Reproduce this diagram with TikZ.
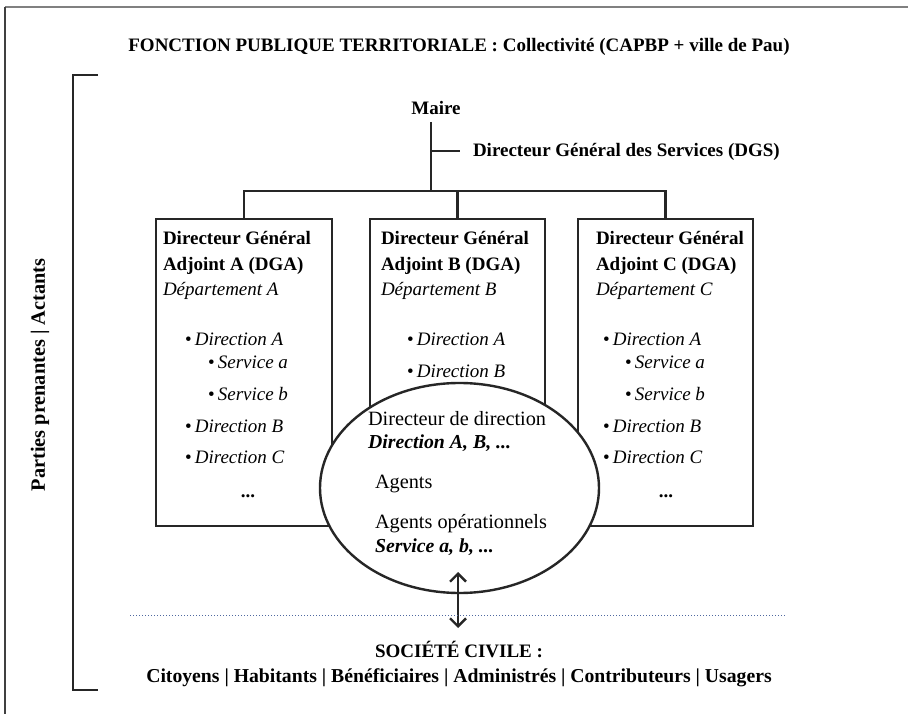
\documentclass[tikz,border=0pt]{standalone}
\usepackage{fontspec}
\setmainfont{Liberation Serif}
\usetikzlibrary{arrows.meta,shapes.geometric}
\begin{document}
\begin{tikzpicture}[x=1pt,y=-1pt, every node/.style={inner sep=0pt, outer sep=0pt}]
\tikzset{
 txt/.style={font=\fontsize{20.3}{24}\selectfont},
 btxt/.style={font=\fontsize{19}{23}\selectfont\bfseries},
 itxt/.style={font=\fontsize{19}{23}\selectfont\itshape},
 bitxt/.style={font=\fontsize{19.8}{24}\selectfont\bfseries\itshape},
 line/.style={line width=2.4pt, black!85},
 dgabox/.style={draw, line width=2.4pt, black!85, fill=white, minimum width=176pt, minimum height=307pt, anchor=north west},
 lb/.style={anchor=base west},
}
\useasboundingbox (0,0) rectangle (908,714);
% frame
\coordinate (f1) at (5,7); \coordinate (f2) at (908,7); \coordinate (f3) at (5,714);
\draw[gray, line width=2pt] (f1) -- (f2);
\draw[black!75, line width=2pt] (f1) -- (f3);

% title
\node[btxt, anchor=base] (title) at (459,52) {FONCTION PUBLIQUE TERRITORIALE : Collectivité (CAPBP + ville de Pau)};

% bracket
\coordinate (b1) at (98,75); \coordinate (b2) at (73,75); \coordinate (b3) at (73,690); \coordinate (b4) at (98,690);
\draw[line] (b1) -- (b2) -- (b3) -- (b4);
\node[btxt, font=\fontsize{20.3}{24}\selectfont\bfseries, rotate=90] (pp) at (40,375) {Parties prenantes | Actants};

% Maire and DGS
\node[btxt, anchor=base] (maire) at (436,115) {Maire};
\coordinate (mtop) at (431,122);
\coordinate (jn) at (431,191);
\coordinate (dgsj) at (431,151);
\coordinate (dgse) at (460,151);
\node[btxt, lb] (dgs) at (473,157) {Directeur Général des Services (DGS)};
\draw[line] (mtop) -- (jn);
\draw[line] (dgsj) -- (dgse);

% boxes
\node[dgabox] (boxA) at (156,219) {};
\node[dgabox, minimum width=175pt] (boxB) at (370,219) {};
\node[dgabox, minimum width=175pt] (boxC) at (578,219) {};
\draw[line] (boxA.north) -- (boxA.north |- jn) -- (boxC.north |- jn) -- (boxC.north);
\draw[line] (boxB.north) -- (boxB.north |- jn);

% Box A text
\node[btxt, lb] (a1) at (163,245) {Directeur Général};
\node[btxt, lb] (a2) at (163,270) {Adjoint A (DGA)};
\node[itxt, lb] (a3) at (163,295) {Département A};
\node[itxt, lb] (a4) at (185,345) {\upshape•\,\itshape Direction A};
\node[itxt, lb] (a5) at (208,368) {\upshape•\,\itshape Service a};
\node[itxt, lb] (a6) at (208,400) {\upshape•\,\itshape Service b};
\node[itxt, lb] (a7) at (185,432) {\upshape•\,\itshape Direction B};
\node[itxt, lb] (a8) at (185,463) {\upshape•\,\itshape Direction C};
\node[btxt, anchor=base] (a9) at (248,497) {...};

% Box B text
\node[btxt, lb] (bb1) at (381,245) {Directeur Général};
\node[btxt, lb] (bb2) at (381,270) {Adjoint B (DGA)};
\node[itxt, lb] (bb3) at (381,295) {Département B};
\node[itxt, lb] (bb4) at (407,345) {\upshape•\,\itshape Direction A};
\node[itxt, lb] (bb5) at (407,377) {\upshape•\,\itshape Direction B};

% Box C text
\node[btxt, lb] (c1) at (596,245) {Directeur Général};
\node[btxt, lb] (c2) at (596,270) {Adjoint C (DGA)};
\node[itxt, lb] (c3) at (596,295) {Département C};
\node[itxt, lb] (c4) at (603,345) {\upshape•\,\itshape Direction A};
\node[itxt, lb] (c5) at (625,368) {\upshape•\,\itshape Service a};
\node[itxt, lb] (c6) at (625,400) {\upshape•\,\itshape Service b};
\node[itxt, lb] (c7) at (603,432) {\upshape•\,\itshape Direction B};
\node[itxt, lb] (c8) at (603,463) {\upshape•\,\itshape Direction C};
\node[btxt, anchor=base] (c9) at (666,497) {...};

% ellipse
\node[draw, ellipse, line width=2.4pt, black!85, fill=white, minimum width=279pt, minimum height=210pt] (ell) at (459.5,488) {};
\node[txt, lb] (e1) at (368,425) {Directeur de direction};
\node[bitxt, lb] (e2) at (368,448) {Direction A, B, ...};
\node[txt, lb] (e3) at (375,488) {Agents};
\node[txt, lb] (e4) at (375,528) {Agents opérationnels};
\node[bitxt, lb] (e5) at (375,552) {Service a, b, ...};

% arrow
\coordinate (ar1) at (458,572);
\coordinate (ar2) at (458,628);
\draw[line, {Straight Barb[length=8pt,width=16pt]}-{Straight Barb[length=8pt,width=16pt]}] (ar1) -- (ar2);

% dotted line
\coordinate (dl) at (130,615);
\coordinate (dr) at (785,615);
\draw[dotted, line width=1pt, color={rgb,255:red,80;green,105;blue,160}] (dl) -- (dr);

% civil society
\node[btxt, anchor=base] (sc) at (459,657) {SOCIÉTÉ CIVILE :};
\node[btxt, font=\fontsize{19.7}{24}\selectfont\bfseries, anchor=base] (sc2) at (459,682) {Citoyens | Habitants | Bénéficiaires | Administrés | Contributeurs | Usagers};
\end{tikzpicture}
\end{document}
